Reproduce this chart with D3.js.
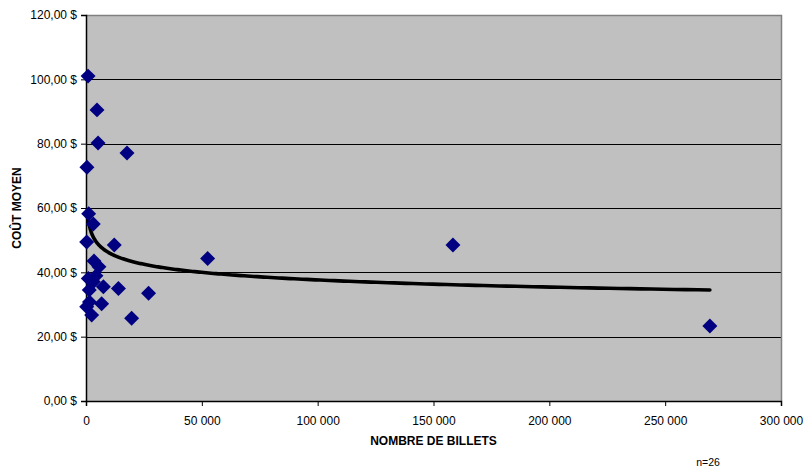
<!DOCTYPE html>
<html><head><meta charset="utf-8">
<script src="https://cdn.jsdelivr.net/npm/d3@7"></script>
<style>body{margin:0;background:#fff}svg{display:block;font-family:"Liberation Sans",Arial,sans-serif}</style>
</head><body>
<svg id="c" width="804" height="469"></svg>
<script>
const billets = [900,4750,5200,400,17700,1150,3150,300,12200,3450,5600,52500,158400,269300,1000,3150,1400,7500,14000,27000,300,2450,6750,19700,1500,4300];
const coutMoyen = [101.0,90.5,80.2,72.7,77.1,58.2,55.0,49.4,48.5,43.5,41.7,44.3,48.5,23.3,38.1,37.1,34.5,35.5,35.0,33.5,29.3,26.7,30.2,25.7,30.8,38.9];
// power trendline y = a * x^b, coefficients
const trendA = 103.3, trendB = -0.0877;
const trendFrom = 750, trendTo = 269300;
const yTicks = [0,20,40,60,80,100,120];
const yTickLabels = ["0,00 $","20,00 $","40,00 $","60,00 $","80,00 $","100,00 $","120,00 $"];
const xTicks = [0,50000,100000,150000,200000,250000,300000];
const xTickLabels = ["0","50 000","100 000","150 000","200 000","250 000","300 000"];
const xTitle = "NOMBRE DE BILLETS", yTitle = "COÛT MOYEN", note = "n=26";

const svg = d3.select("#c");
const L=86,R=781,T=15,B=401;
const x = d3.scaleLinear().domain([0,300000]).range([L,R]);
const y = d3.scaleLinear().domain([0,120]).range([B,T]);

svg.append("rect").attr("x",L).attr("y",T).attr("width",R-L).attr("height",B-T).attr("fill","#C0C0C0");
svg.append("g").selectAll("line").data(yTicks.filter(d=>d>0 && d<120)).join("line")
  .attr("x1",L).attr("x2",R).attr("y1",d=>Math.round(y(d))+0.5).attr("y2",d=>Math.round(y(d))+0.5)
  .attr("stroke","#000").attr("stroke-width",1);
svg.append("path").attr("d",`M${L},${T+0.5}H${R+0.5}V${B}`).attr("fill","none").attr("stroke","#808080").attr("stroke-width",1.5);

const yAxis = d3.axisLeft(y).tickValues(yTicks).tickFormat((d,i)=>yTickLabels[i]).tickSize(5).tickPadding(4);
const gy = svg.append("g").attr("transform",`translate(${L},0)`).call(yAxis);
const xAxis = d3.axisBottom(x).tickValues(xTicks).tickFormat((d,i)=>xTickLabels[i]).tickSize(5).tickPadding(10);
const gx = svg.append("g").attr("transform",`translate(0,${B})`).call(xAxis);
[gx,gy].forEach(g=>{
  g.select(".domain").attr("stroke","#000").attr("stroke-width",1.5);
  g.selectAll(".tick line").attr("stroke","#000");
  g.selectAll("text").attr("font-size",12).attr("fill","#000").attr("font-family","Liberation Sans, Arial, sans-serif");
});

const xs = d3.range(0,301).map(i=>Math.exp(Math.log(trendFrom) + i/300*(Math.log(trendTo)-Math.log(trendFrom))));
svg.append("path").datum(xs).attr("fill","none").attr("stroke","#000").attr("stroke-width",3.6).attr("stroke-linecap","round")
  .attr("d",d3.line().x(d=>x(d)).y(d=>y(trendA*Math.pow(d,trendB))));

svg.append("g").selectAll("path").data(billets.map((d,i)=>[d,coutMoyen[i]])).join("path")
  .attr("transform",d=>`translate(${x(d[0])},${y(d[1])}) rotate(45)`)
  .attr("d",d3.symbol().type(d3.symbolSquare).size(112))
  .attr("fill","#000080");

svg.append("text").attr("x",(L+R)/2).attr("y",445).attr("text-anchor","middle").attr("font-size",12).attr("font-weight","bold").text(xTitle);
svg.append("text").attr("transform",`translate(21,${(T+B)/2}) rotate(-90)`).attr("text-anchor","middle").attr("font-size",12).attr("font-weight","bold").text(yTitle);
svg.append("text").attr("x",708).attr("y",466).attr("text-anchor","middle").attr("font-size",10.5).text(note);
</script>
</body></html>
